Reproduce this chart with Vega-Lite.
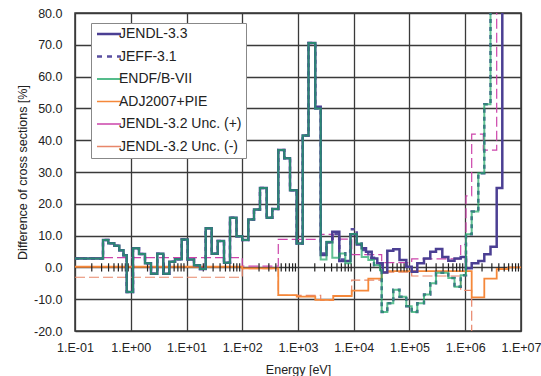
{
  "$schema": "https://vega.github.io/schema/vega-lite/v6.json",
  "width": 446,
  "height": 318,
  "autosize": "none",
  "padding": {"left": 75, "top": 13, "right": 20, "bottom": 45},
  "config": {
    "font": "Liberation Sans",
    "view": {"stroke": "#333333", "strokeWidth": 1.5},
    "axis": {"domain": false, "ticks": false, "grid": true, "gridColor": "#3a3a3a", "gridWidth": 1.3, "labelFontSize": 12.5, "labelColor": "#222222", "titleFontSize": 12.5, "titleFontWeight": "normal", "titleColor": "#222222"}
  },
  "datasets": {
    "curves": [
      {"s":"JENDL-3.3","e":0.1,"v":2.8},{"s":"JENDL-3.3","e":0.318,"v":8.6},{"s":"JENDL-3.3","e":0.396,"v":7.6},{"s":"JENDL-3.3","e":0.507,"v":6.8},{"s":"JENDL-3.3","e":0.623,"v":5.4},{"s":"JENDL-3.3","e":0.741,"v":3.8},{"s":"JENDL-3.3","e":0.846,"v":-7.7},{"s":"JENDL-3.3","e":1.098,"v":6.0},{"s":"JENDL-3.3","e":1.406,"v":4.2},{"s":"JENDL-3.3","e":1.801,"v":1.3},{"s":"JENDL-3.3","e":2.308,"v":-2.0},{"s":"JENDL-3.3","e":2.994,"v":4.3},{"s":"JENDL-3.3","e":3.836,"v":-2.0},{"s":"JENDL-3.3","e":4.915,"v":1.8},{"s":"JENDL-3.3","e":6.22,"v":2.6},{"s":"JENDL-3.3","e":8.2,"v":8.8},{"s":"JENDL-3.3","e":10.5,"v":2.5},{"s":"JENDL-3.3","e":13.63,"v":0.7},{"s":"JENDL-3.3","e":17.47,"v":-0.5},{"s":"JENDL-3.3","e":22.1,"v":12.3},{"s":"JENDL-3.3","e":28.3,"v":4.3},{"s":"JENDL-3.3","e":36.3,"v":8.3},{"s":"JENDL-3.3","e":47.1,"v":1.5},{"s":"JENDL-3.3","e":60.3,"v":15.6},{"s":"JENDL-3.3","e":78.9,"v":9.8},{"s":"JENDL-3.3","e":100,"v":8.6},{"s":"JENDL-3.3","e":128.4,"v":15.1},{"s":"JENDL-3.3","e":162.5,"v":18.2},{"s":"JENDL-3.3","e":208,"v":25.0},{"s":"JENDL-3.3","e":274.6,"v":15.6},{"s":"JENDL-3.3","e":346,"v":18.4},{"s":"JENDL-3.3","e":443,"v":36.9},{"s":"JENDL-3.3","e":568,"v":34.3},{"s":"JENDL-3.3","e":719,"v":24.3},{"s":"JENDL-3.3","e":948,"v":7.5},{"s":"JENDL-3.3","e":1214,"v":41.5},{"s":"JENDL-3.3","e":1543,"v":70.6},
      {"s":"JENDL-3.3","e":2043,"v":50.5},{"s":"JENDL-3.3","e":2554,"v":3.9},{"s":"JENDL-3.3","e":3245,"v":7.9},{"s":"JENDL-3.3","e":4123,"v":11.2},{"s":"JENDL-3.3","e":5506,"v":2.0},{"s":"JENDL-3.3","e":8744,"v":10.4},{"s":"JENDL-3.3","e":11296,"v":7.2},{"s":"JENDL-3.3","e":13885,"v":6.0},{"s":"JENDL-3.3","e":16587,"v":4.9},{"s":"JENDL-3.3","e":20989,"v":2.8},{"s":"JENDL-3.3","e":26446,"v":1.3},{"s":"JENDL-3.3","e":33062,"v":-1.6},{"s":"JENDL-3.3","e":39980,"v":5.2},{"s":"JENDL-3.3","e":51215,"v":5.7},{"s":"JENDL-3.3","e":66160,"v":2.3},{"s":"JENDL-3.3","e":87620,"v":0.2},{"s":"JENDL-3.3","e":109520,"v":-1.4},{"s":"JENDL-3.3","e":138000,"v":1.3},{"s":"JENDL-3.3","e":182000,"v":2.8},{"s":"JENDL-3.3","e":236100,"v":4.9},{"s":"JENDL-3.3","e":298700,"v":5.8},{"s":"JENDL-3.3","e":387600,"v":3.3},{"s":"JENDL-3.3","e":496600,"v":2.1},{"s":"JENDL-3.3","e":641700,"v":2.8},{"s":"JENDL-3.3","e":828500,"v":3.3},{"s":"JENDL-3.3","e":1031600,"v":-0.3},{"s":"JENDL-3.3","e":1305000,"v":1.3},{"s":"JENDL-3.3","e":1715000,"v":2.0},{"s":"JENDL-3.3","e":2196000,"v":4.1},{"s":"JENDL-3.3","e":2838000,"v":6.5},{"s":"JENDL-3.3","e":3665000,"v":25.0},{"s":"JENDL-3.3","e":4619000,"v":150},{"s":"JENDL-3.3","e":10000000,"v":150},

      {"s":"JEFF-3.1","e":0.1,"v":2.8},{"s":"JEFF-3.1","e":0.318,"v":8.6},{"s":"JEFF-3.1","e":0.396,"v":7.6},{"s":"JEFF-3.1","e":0.507,"v":6.8},{"s":"JEFF-3.1","e":0.623,"v":5.4},{"s":"JEFF-3.1","e":0.741,"v":3.8},{"s":"JEFF-3.1","e":0.846,"v":-7.7},{"s":"JEFF-3.1","e":1.098,"v":6.0},{"s":"JEFF-3.1","e":1.406,"v":4.2},{"s":"JEFF-3.1","e":1.801,"v":1.3},{"s":"JEFF-3.1","e":2.308,"v":-2.0},{"s":"JEFF-3.1","e":2.994,"v":4.3},{"s":"JEFF-3.1","e":3.836,"v":-2.0},{"s":"JEFF-3.1","e":4.915,"v":1.8},{"s":"JEFF-3.1","e":6.22,"v":2.6},{"s":"JEFF-3.1","e":8.2,"v":8.8},{"s":"JEFF-3.1","e":10.5,"v":2.5},{"s":"JEFF-3.1","e":13.63,"v":0.7},{"s":"JEFF-3.1","e":17.47,"v":-0.5},{"s":"JEFF-3.1","e":22.1,"v":12.3},{"s":"JEFF-3.1","e":28.3,"v":4.3},{"s":"JEFF-3.1","e":36.3,"v":8.3},{"s":"JEFF-3.1","e":47.1,"v":1.5},{"s":"JEFF-3.1","e":60.3,"v":15.6},{"s":"JEFF-3.1","e":78.9,"v":9.8},{"s":"JEFF-3.1","e":100,"v":8.6},{"s":"JEFF-3.1","e":128.4,"v":15.1},{"s":"JEFF-3.1","e":162.5,"v":18.2},{"s":"JEFF-3.1","e":208,"v":25.0},{"s":"JEFF-3.1","e":274.6,"v":15.6},{"s":"JEFF-3.1","e":346,"v":18.4},{"s":"JEFF-3.1","e":443,"v":36.9},{"s":"JEFF-3.1","e":568,"v":34.3},{"s":"JEFF-3.1","e":719,"v":24.3},{"s":"JEFF-3.1","e":948,"v":7.5},{"s":"JEFF-3.1","e":1214,"v":41.5},{"s":"JEFF-3.1","e":1543,"v":70.6},
      {"s":"JEFF-3.1","e":2043,"v":50.0},{"s":"JEFF-3.1","e":2554,"v":4.4},{"s":"JEFF-3.1","e":3245,"v":7.9},{"s":"JEFF-3.1","e":4123,"v":10.5},{"s":"JEFF-3.1","e":5506,"v":2.5},{"s":"JEFF-3.1","e":7054,"v":5.0},{"s":"JEFF-3.1","e":8744,"v":12.0},{"s":"JEFF-3.1","e":11296,"v":7.5},{"s":"JEFF-3.1","e":13885,"v":5.5},{"s":"JEFF-3.1","e":18239,"v":3.0},{"s":"JEFF-3.1","e":23083,"v":0.7},{"s":"JEFF-3.1","e":31716,"v":-14.0},{"s":"JEFF-3.1","e":39980,"v":-11.3},{"s":"JEFF-3.1","e":51215,"v":-7.0},{"s":"JEFF-3.1","e":66160,"v":-9.2},{"s":"JEFF-3.1","e":87620,"v":-12.2},{"s":"JEFF-3.1","e":109520,"v":-14.0},{"s":"JEFF-3.1","e":138000,"v":-11.3},{"s":"JEFF-3.1","e":182000,"v":-8.5},{"s":"JEFF-3.1","e":236100,"v":-5.0},{"s":"JEFF-3.1","e":298700,"v":-1.7},{"s":"JEFF-3.1","e":496600,"v":-3.3},{"s":"JEFF-3.1","e":641700,"v":-6.1},{"s":"JEFF-3.1","e":828500,"v":-2.5},{"s":"JEFF-3.1","e":1031600,"v":10.4},{"s":"JEFF-3.1","e":1305000,"v":17.6},{"s":"JEFF-3.1","e":1715000,"v":29.6},{"s":"JEFF-3.1","e":2196000,"v":51.3},{"s":"JEFF-3.1","e":2838000,"v":150},{"s":"JEFF-3.1","e":10000000,"v":150},

      {"s":"ENDF/B-VII","e":0.1,"v":2.8},{"s":"ENDF/B-VII","e":0.318,"v":8.6},{"s":"ENDF/B-VII","e":0.396,"v":7.6},{"s":"ENDF/B-VII","e":0.507,"v":6.8},{"s":"ENDF/B-VII","e":0.623,"v":5.4},{"s":"ENDF/B-VII","e":0.741,"v":3.8},{"s":"ENDF/B-VII","e":0.846,"v":-7.7},{"s":"ENDF/B-VII","e":1.098,"v":6.0},{"s":"ENDF/B-VII","e":1.406,"v":4.2},{"s":"ENDF/B-VII","e":1.801,"v":1.3},{"s":"ENDF/B-VII","e":2.308,"v":-2.0},{"s":"ENDF/B-VII","e":2.994,"v":4.3},{"s":"ENDF/B-VII","e":3.836,"v":-2.0},{"s":"ENDF/B-VII","e":4.915,"v":1.8},{"s":"ENDF/B-VII","e":6.22,"v":2.6},{"s":"ENDF/B-VII","e":8.2,"v":8.8},{"s":"ENDF/B-VII","e":10.5,"v":2.5},{"s":"ENDF/B-VII","e":13.63,"v":0.7},{"s":"ENDF/B-VII","e":17.47,"v":-0.5},{"s":"ENDF/B-VII","e":22.1,"v":12.3},{"s":"ENDF/B-VII","e":28.3,"v":4.3},{"s":"ENDF/B-VII","e":36.3,"v":8.3},{"s":"ENDF/B-VII","e":47.1,"v":1.5},{"s":"ENDF/B-VII","e":60.3,"v":15.6},{"s":"ENDF/B-VII","e":78.9,"v":9.8},{"s":"ENDF/B-VII","e":100,"v":8.6},{"s":"ENDF/B-VII","e":128.4,"v":15.1},{"s":"ENDF/B-VII","e":162.5,"v":18.2},{"s":"ENDF/B-VII","e":208,"v":25.0},{"s":"ENDF/B-VII","e":274.6,"v":15.6},{"s":"ENDF/B-VII","e":346,"v":18.4},{"s":"ENDF/B-VII","e":443,"v":36.9},{"s":"ENDF/B-VII","e":568,"v":34.3},{"s":"ENDF/B-VII","e":719,"v":24.3},{"s":"ENDF/B-VII","e":948,"v":7.5},{"s":"ENDF/B-VII","e":1214,"v":41.5},{"s":"ENDF/B-VII","e":1543,"v":70.6},
      {"s":"ENDF/B-VII","e":2043,"v":50.0},{"s":"ENDF/B-VII","e":2554,"v":2.5},{"s":"ENDF/B-VII","e":3245,"v":8.1},{"s":"ENDF/B-VII","e":4123,"v":3.0},{"s":"ENDF/B-VII","e":5506,"v":4.4},{"s":"ENDF/B-VII","e":7054,"v":1.3},{"s":"ENDF/B-VII","e":8744,"v":10.5},{"s":"ENDF/B-VII","e":11296,"v":7.5},{"s":"ENDF/B-VII","e":13885,"v":3.3},{"s":"ENDF/B-VII","e":18239,"v":2.3},{"s":"ENDF/B-VII","e":23083,"v":0.7},{"s":"ENDF/B-VII","e":29575,"v":-0.8},{"s":"ENDF/B-VII","e":31716,"v":-14.0},{"s":"ENDF/B-VII","e":39980,"v":-11.3},{"s":"ENDF/B-VII","e":51215,"v":-7.0},{"s":"ENDF/B-VII","e":66160,"v":-9.2},{"s":"ENDF/B-VII","e":87620,"v":-12.2},{"s":"ENDF/B-VII","e":109520,"v":-14.0},{"s":"ENDF/B-VII","e":138000,"v":-11.3},{"s":"ENDF/B-VII","e":182000,"v":-8.5},{"s":"ENDF/B-VII","e":236100,"v":-5.0},{"s":"ENDF/B-VII","e":298700,"v":-1.7},{"s":"ENDF/B-VII","e":496600,"v":-3.3},{"s":"ENDF/B-VII","e":641700,"v":-6.1},{"s":"ENDF/B-VII","e":828500,"v":-2.5},{"s":"ENDF/B-VII","e":1031600,"v":10.4},{"s":"ENDF/B-VII","e":1305000,"v":17.6},{"s":"ENDF/B-VII","e":1715000,"v":29.6},{"s":"ENDF/B-VII","e":2196000,"v":51.3},{"s":"ENDF/B-VII","e":2838000,"v":150},{"s":"ENDF/B-VII","e":10000000,"v":150},

      {"s":"ADJ2007+PIE","e":0.1,"v":0.2},{"s":"ADJ2007+PIE","e":100,"v":-0.3},{"s":"ADJ2007+PIE","e":443,"v":-8.7},{"s":"ADJ2007+PIE","e":948,"v":-9.2},{"s":"ADJ2007+PIE","e":2043,"v":-10.2},{"s":"ADJ2007+PIE","e":4298,"v":-9.0},{"s":"ADJ2007+PIE","e":9188,"v":-7.3},{"s":"ADJ2007+PIE","e":18239,"v":-3.5},{"s":"ADJ2007+PIE","e":31716,"v":-1.6},{"s":"ADJ2007+PIE","e":39980,"v":-1.2},{"s":"ADJ2007+PIE","e":1305000,"v":-9.4},{"s":"ADJ2007+PIE","e":2196000,"v":-3.5},{"s":"ADJ2007+PIE","e":3665000,"v":-0.5},{"s":"ADJ2007+PIE","e":5918000,"v":0.0},{"s":"ADJ2007+PIE","e":10000000,"v":0.0},

      {"s":"JENDL-3.2 Unc. (+)","e":0.1,"v":3.1},{"s":"JENDL-3.2 Unc. (+)","e":100,"v":0.4},{"s":"JENDL-3.2 Unc. (+)","e":443,"v":8.8},{"s":"JENDL-3.2 Unc. (+)","e":2554,"v":10.4},{"s":"JENDL-3.2 Unc. (+)","e":4298,"v":8.9},{"s":"JENDL-3.2 Unc. (+)","e":9188,"v":4.0},{"s":"JENDL-3.2 Unc. (+)","e":31716,"v":1.5},{"s":"JENDL-3.2 Unc. (+)","e":109520,"v":2.7},{"s":"JENDL-3.2 Unc. (+)","e":828500,"v":7.2},{"s":"JENDL-3.2 Unc. (+)","e":1031600,"v":22.5},{"s":"JENDL-3.2 Unc. (+)","e":1305000,"v":41.9},{"s":"JENDL-3.2 Unc. (+)","e":2108000,"v":36.9},{"s":"JENDL-3.2 Unc. (+)","e":3665000,"v":150},{"s":"JENDL-3.2 Unc. (+)","e":10000000,"v":150},

      {"s":"JENDL-3.2 Unc. (-)","e":0.1,"v":-3.1},{"s":"JENDL-3.2 Unc. (-)","e":100,"v":-0.4},{"s":"JENDL-3.2 Unc. (-)","e":443,"v":-8.8},{"s":"JENDL-3.2 Unc. (-)","e":2554,"v":-10.4},{"s":"JENDL-3.2 Unc. (-)","e":4298,"v":-8.9},{"s":"JENDL-3.2 Unc. (-)","e":9188,"v":-4.0},{"s":"JENDL-3.2 Unc. (-)","e":31716,"v":-1.5},{"s":"JENDL-3.2 Unc. (-)","e":109520,"v":-2.7},{"s":"JENDL-3.2 Unc. (-)","e":828500,"v":-7.2},{"s":"JENDL-3.2 Unc. (-)","e":1305000,"v":-41.9},{"s":"JENDL-3.2 Unc. (-)","e":2108000,"v":-36.9},{"s":"JENDL-3.2 Unc. (-)","e":3665000,"v":-150},{"s":"JENDL-3.2 Unc. (-)","e":10000000,"v":-150}
    ]
  },
  "encoding": {
    "x": {
      "field": "e", "type": "quantitative", "title": "Energy [eV]",
      "scale": {"type": "log", "domain": [0.1, 10000000], "nice": false},
      "axis": {"values": [0.1, 1, 10, 100, 1000, 10000, 100000, 1000000, 10000000], "labelExpr": "'1.E' + (datum.value < 1 ? '-' : '+') + format(abs(round(log(datum.value) / LN10)), '02d')", "labelPadding": 10, "labelFlush": false, "labelOverlap": false, "titleY": 38, "titleBaseline": "middle"}
    }
  },
  "layer": [
    {"data": {"name": "curves"}, "transform": [{"filter": "datum.s === 'JENDL-3.2 Unc. (+)'"}], "mark": {"type": "line", "interpolate": "step-after", "strokeWidth": 1.2, "strokeDash": [10, 4], "clip": true},
     "encoding": {
      "y": {
        "field": "v", "type": "quantitative", "title": "Difference of cross sections [%]",
        "scale": {"domain": [-20, 80], "nice": false, "zero": false},
        "axis": {"values": [-20, -10, 0, 10, 20, 30, 40, 50, 60, 70, 80], "labelExpr": "(datum.value < 0 ? '-' : '') + format(abs(datum.value), '.1f')", "labelPadding": 13, "labelOverlap": false, "titleX": -53, "titleY": 159, "titleAngle": -90, "titleAlign": "center", "titleBaseline": "middle"}
      },
      "color": {
      "field": "s", "type": "nominal",
      "scale": {"domain": ["JENDL-3.3", "JEFF-3.1", "ENDF/B-VII", "ADJ2007+PIE", "JENDL-3.2 Unc. (+)", "JENDL-3.2 Unc. (-)"], "range": ["#4b3f93", "#5a4fa0", "#1ea765", "#f5883a", "#cc44aa", "#e8866a"]},
      "legend": {
        "title": null, "orient": "none", "legendX": 16, "legendY": 10,
        "fillColor": "white", "strokeColor": "#888888", "padding": 4,
        "symbolType": "stroke", "symbolSize": 576, "symbolStrokeWidth": 2, "symbolOffset": 7,
        "labelFontSize": 14, "labelColor": "#222222", "labelOffset": 3, "labelLimit": 300, "rowPadding": 8.5,
        "encode": {"symbols": {"update": {
          "strokeDash": {"signal": "datum.value === 'JEFF-3.1' ? [5, 5] : [1, 0]"},
          "strokeWidth": {"signal": "datum.value === 'JENDL-3.3' || datum.value === 'JEFF-3.1' ? 2.5 : 1.5"}
        }}}
      }}}},
    {"data": {"name": "curves"}, "transform": [{"filter": "datum.s === 'JENDL-3.2 Unc. (-)'"}], "mark": {"type": "line", "interpolate": "step-after", "strokeWidth": 1.2, "strokeDash": [10, 4], "clip": true},
     "encoding": {"y": {"field": "v", "type": "quantitative", "title": "Difference of cross sections [%]", "scale": {"domain": [-20, 80], "nice": false, "zero": false}, "axis": {"values": [-20, -10, 0, 10, 20, 30, 40, 50, 60, 70, 80], "labelExpr": "(datum.value < 0 ? '-' : '') + format(abs(datum.value), '.1f')", "labelPadding": 13, "labelOverlap": false, "titleX": -53, "titleY": 159, "titleAngle": -90, "titleAlign": "center", "titleBaseline": "middle"}}, "color": {"field": "s", "type": "nominal"}}},
    {"data": {"name": "curves"}, "transform": [{"filter": "datum.s === 'ADJ2007+PIE'"}], "mark": {"type": "line", "interpolate": "step-after", "strokeWidth": 1.8, "clip": true},
     "encoding": {"y": {"field": "v", "type": "quantitative", "title": "Difference of cross sections [%]", "scale": {"domain": [-20, 80], "nice": false, "zero": false}, "axis": {"values": [-20, -10, 0, 10, 20, 30, 40, 50, 60, 70, 80], "labelExpr": "(datum.value < 0 ? '-' : '') + format(abs(datum.value), '.1f')", "labelPadding": 13, "labelOverlap": false, "titleX": -53, "titleY": 159, "titleAngle": -90, "titleAlign": "center", "titleBaseline": "middle"}}, "color": {"field": "s", "type": "nominal"}}},
    {"data": {"values": [
      {"e":0.2},{"e":0.3},{"e":0.4},{"e":0.5},{"e":0.6},{"e":0.7},{"e":0.8},{"e":0.9},
      {"e":2},{"e":3},{"e":4},{"e":5},{"e":6},{"e":7},{"e":8},{"e":9},
      {"e":20},{"e":30},{"e":40},{"e":50},{"e":60},{"e":70},{"e":80},{"e":90},
      {"e":200},{"e":300},{"e":400},{"e":500},{"e":600},{"e":700},{"e":800},{"e":900},
      {"e":2000},{"e":3000},{"e":4000},{"e":5000},{"e":6000},{"e":7000},{"e":8000},{"e":9000},
      {"e":20000},{"e":30000},{"e":40000},{"e":50000},{"e":60000},{"e":70000},{"e":80000},{"e":90000},
      {"e":200000},{"e":300000},{"e":400000},{"e":500000},{"e":600000},{"e":700000},{"e":800000},{"e":900000},
      {"e":2000000},{"e":3000000},{"e":4000000},{"e":5000000},{"e":6000000},{"e":7000000},{"e":8000000},{"e":9000000}
     ]},
     "mark": {"type": "rule", "color": "#222222", "strokeWidth": 1.2},
     "encoding": {
       "y": {"datum": -1.3, "type": "quantitative", "title": "Difference of cross sections [%]", "scale": {"domain": [-20, 80], "nice": false, "zero": false}, "axis": {"values": [-20, -10, 0, 10, 20, 30, 40, 50, 60, 70, 80], "labelExpr": "(datum.value < 0 ? '-' : '') + format(abs(datum.value), '.1f')", "labelPadding": 13, "labelOverlap": false, "titleX": -53, "titleY": 159, "titleAngle": -90, "titleAlign": "center", "titleBaseline": "middle"}},
       "y2": {"datum": 1.3}
     }},
    {"data": {"name": "curves"}, "transform": [{"filter": "datum.s === 'JEFF-3.1'"}], "mark": {"type": "line", "interpolate": "step-after", "strokeWidth": 2.5, "strokeDash": [4, 4], "clip": true},
     "encoding": {"y": {"field": "v", "type": "quantitative", "title": "Difference of cross sections [%]", "scale": {"domain": [-20, 80], "nice": false, "zero": false}, "axis": {"values": [-20, -10, 0, 10, 20, 30, 40, 50, 60, 70, 80], "labelExpr": "(datum.value < 0 ? '-' : '') + format(abs(datum.value), '.1f')", "labelPadding": 13, "labelOverlap": false, "titleX": -53, "titleY": 159, "titleAngle": -90, "titleAlign": "center", "titleBaseline": "middle"}}, "color": {"field": "s", "type": "nominal"}}},
    {"data": {"name": "curves"}, "transform": [{"filter": "datum.s === 'JENDL-3.3'"}], "mark": {"type": "line", "interpolate": "step-after", "strokeWidth": 2.5, "clip": true},
     "encoding": {"y": {"field": "v", "type": "quantitative", "title": "Difference of cross sections [%]", "scale": {"domain": [-20, 80], "nice": false, "zero": false}, "axis": {"values": [-20, -10, 0, 10, 20, 30, 40, 50, 60, 70, 80], "labelExpr": "(datum.value < 0 ? '-' : '') + format(abs(datum.value), '.1f')", "labelPadding": 13, "labelOverlap": false, "titleX": -53, "titleY": 159, "titleAngle": -90, "titleAlign": "center", "titleBaseline": "middle"}}, "color": {"field": "s", "type": "nominal"}}},
    {"data": {"name": "curves"}, "transform": [{"filter": "datum.s === 'ENDF/B-VII'"}], "mark": {"type": "line", "interpolate": "step-after", "strokeWidth": 2, "strokeOpacity": 0.7, "clip": true},
     "encoding": {"y": {"field": "v", "type": "quantitative", "title": "Difference of cross sections [%]", "scale": {"domain": [-20, 80], "nice": false, "zero": false}, "axis": {"values": [-20, -10, 0, 10, 20, 30, 40, 50, 60, 70, 80], "labelExpr": "(datum.value < 0 ? '-' : '') + format(abs(datum.value), '.1f')", "labelPadding": 13, "labelOverlap": false, "titleX": -53, "titleY": 159, "titleAngle": -90, "titleAlign": "center", "titleBaseline": "middle"}}, "color": {"field": "s", "type": "nominal"}}}
  ]
}
